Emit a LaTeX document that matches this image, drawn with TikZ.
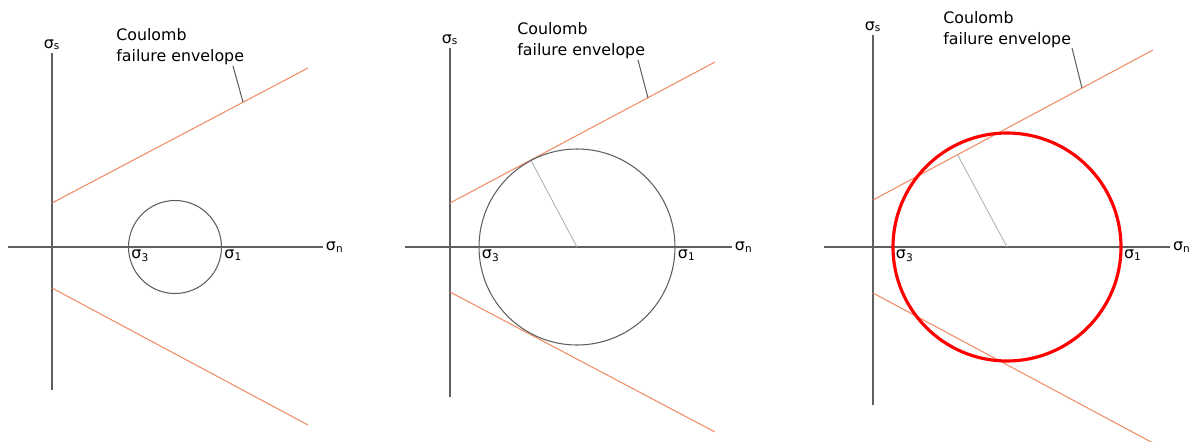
\documentclass[tikz,border=0pt]{standalone}
\usepackage{fontspec}
\setmainfont{DejaVu Sans}
\usepackage{tikz}
\usetikzlibrary{calc}
\definecolor{envorange}{RGB}{240,140,100}
\definecolor{axisgray}{RGB}{95,95,95}
\tikzset{
  axisline/.style={draw=axisgray, line width=0.6pt},
  envelope/.style={draw=envorange, line width=0.6pt},
  mohr/.style={draw=axisgray, line width=0.6pt},
  failmohr/.style={draw=red, line width=1.8pt},
  perp/.style={draw=black!30, line width=0.5pt},
  leader/.style={draw=axisgray, line width=0.6pt},
  lbl/.style={inner sep=1.5pt, font=\fontsize{9}{11}\selectfont},
  note/.style={align=left, inner sep=0pt, font=\fontsize{9}{12}\selectfont}
}

\begin{document}
\begin{tikzpicture}[x=0.02cm, y=0.02cm]
  \useasboundingbox (0,0) rectangle (1200,441);
  % 1: stable circle
  \begin{scope}[shift={(52,194)}]
    \coordinate (Vb1) at (0,-143);
    \coordinate (Vt1) at (0,194);
    \coordinate (Hl1) at (-44,0);
    \coordinate (Hr1) at (271,0);
    \coordinate (Ea1) at (0,44);
    \coordinate (Eb1) at (256,179);
    \coordinate (La1) at (0,-41);
    \coordinate (Lb1) at (256,-178);
    \coordinate (C1) at (123,0);
    \coordinate (Tt1) at (181,181);
    \coordinate (T1) at (191,145);
    \draw[axisline] (Vb1) -- (Vt1);
    \draw[axisline] (Hl1) -- (Hr1);
    \draw[envelope] (Ea1) -- (Eb1);
    \draw[envelope] (La1) -- (Lb1);
    \draw[mohr] (C1) circle[radius=46.5];
    \draw[leader] (Tt1) -- (T1);
    \node[lbl, anchor=south] (sigS1) at (Vt1) {σ\textsubscript{s}};
    \node[lbl, anchor=west] (sigN1) at (Hr1) {σ\textsubscript{n}};
    \node[lbl, anchor=north west] (sigThree1) at (76.5,0) {σ\textsubscript{3}};
    \node[lbl, anchor=north west] (sigOne1) at (169.5,0) {σ\textsubscript{1}};
    \node[note, anchor=north west] (note1) at (64,219) {Coulomb\\failure envelope};
  \end{scope}
  % 2: circle touching envelope
  \begin{scope}[shift={(450,194)}]
    \coordinate (Vb2) at (0,-150);
    \coordinate (Vt2) at (0,199);
    \coordinate (Hl2) at (-45,0);
    \coordinate (Hr2) at (282,0);
    \coordinate (Ea2) at (0,44);
    \coordinate (Eb2) at (265,185);
    \coordinate (La2) at (0,-45);
    \coordinate (Lb2) at (265,-185);
    \coordinate (C2) at (127,0);
    \coordinate (Tt2) at (188,187);
    \coordinate (T2) at (198,149);
    \draw[axisline] (Vb2) -- (Vt2);
    \draw[axisline] (Hl2) -- (Hr2);
    \draw[envelope] (Ea2) -- (Eb2);
    \draw[envelope] (La2) -- (Lb2);
    \draw[perp] (C2) -- ($(Ea2)!(C2)!(Eb2)$);
    \draw[mohr] (C2) circle[radius=98];
    \draw[leader] (Tt2) -- (T2);
    \node[lbl, anchor=south] (sigS2) at (Vt2) {σ\textsubscript{s}};
    \node[lbl, anchor=west] (sigN2) at (Hr2) {σ\textsubscript{n}};
    \node[lbl, anchor=north west] (sigThree2) at (29,0) {σ\textsubscript{3}};
    \node[lbl, anchor=north west] (sigOne2) at (225,0) {σ\textsubscript{1}};
    \node[note, anchor=north west] (note2) at (67,225) {Coulomb\\failure envelope};
  \end{scope}
  % 3: circle beyond envelope
  \begin{scope}[shift={(873,194)}]
    \coordinate (Vb3) at (0,-158);
    \coordinate (Vt3) at (0,212);
    \coordinate (Hl3) at (-49,0);
    \coordinate (Hr3) at (297,0);
    \coordinate (Ea3) at (0,47);
    \coordinate (Eb3) at (280,197);
    \coordinate (La3) at (0,-46);
    \coordinate (Lb3) at (280,-196);
    \coordinate (C3) at (134,0);
    \coordinate (Tt3) at (199,199);
    \coordinate (T3) at (209,159);
    \draw[axisline] (Vb3) -- (Vt3);
    \draw[axisline] (Hl3) -- (Hr3);
    \draw[envelope] (Ea3) -- (Eb3);
    \draw[envelope] (La3) -- (Lb3);
    \draw[perp] (C3) -- ($(Ea3)!(C3)!(Eb3)$);
    \draw[failmohr] (C3) circle[radius=114];
    \draw[leader] (Tt3) -- (T3);
    \node[lbl, anchor=south] (sigS3) at (Vt3) {σ\textsubscript{s}};
    \node[lbl, anchor=west] (sigN3) at (Hr3) {σ\textsubscript{n}};
    \node[lbl, anchor=north west] (sigThree3) at (20,0) {σ\textsubscript{3}};
    \node[lbl, anchor=north west] (sigOne3) at (248,0) {σ\textsubscript{1}};
    \node[note, anchor=north west] (note3) at (70,236) {Coulomb\\failure envelope};
  \end{scope}
\end{tikzpicture}
\end{document}
